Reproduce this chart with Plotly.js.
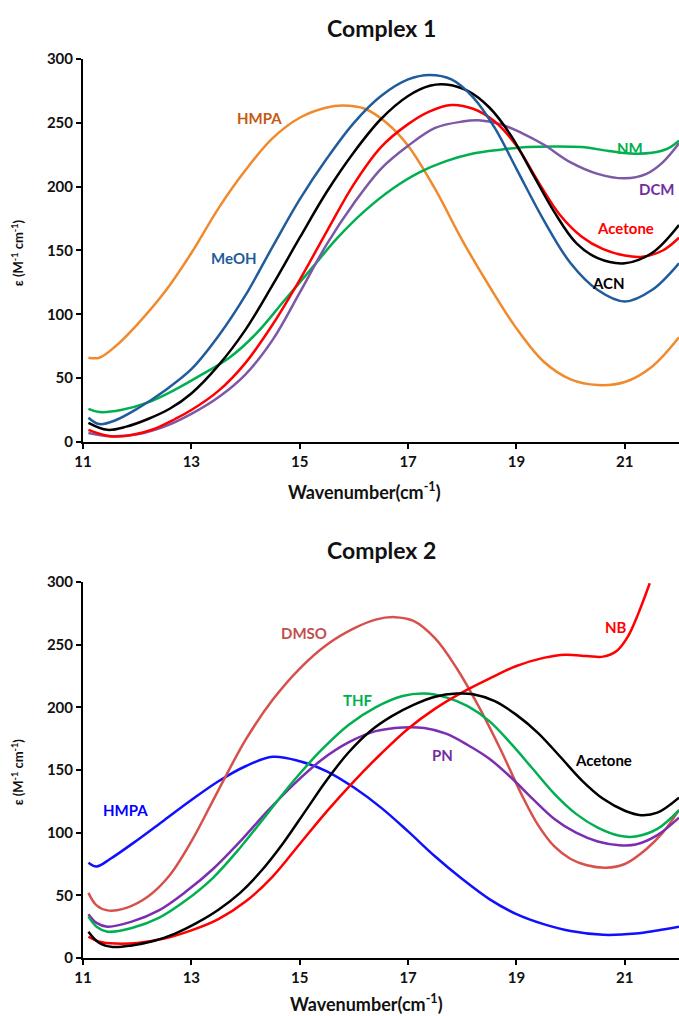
<!DOCTYPE html>
<html>
<head>
<meta charset="utf-8">
<script src="https://cdn.plot.ly/plotly-3.0.1.min.js"></script>
<style>html,body{margin:0;padding:0;background:#fff;}#chart{width:679px;height:1016px;}</style>
</head>
<body>
<div id="chart"></div>
<script>
// ---------- Complex 1 ----------
const c1_HMPA_x = [11.1, 11.3, 11.6, 12.0, 12.5, 13.0, 13.5, 14.0, 14.5, 15.0, 15.5, 15.8, 16.2, 16.6, 17.0, 17.5, 18.0, 18.5, 19.0, 19.5, 20.0, 20.5, 21.0, 21.5, 22.0];
const c1_HMPA_y = [66, 66, 75, 92, 117, 148, 183, 213, 238, 254, 262, 263.5, 261, 250, 232, 198, 158, 122, 89, 63, 49, 44.6, 47, 59, 82];
const c1_MeOH_x = [11.1, 11.3, 11.6, 12.0, 12.5, 13.0, 13.5, 14.0, 14.5, 15.0, 15.5, 16.0, 16.5, 17.0, 17.4, 17.8, 18.2, 18.6, 19.0, 19.5, 20.0, 20.5, 21.0, 21.5, 22.0];
const c1_MeOH_y = [19, 14, 17, 26, 40, 57, 83, 115, 153, 190, 222, 250, 271, 284, 287.5, 284, 270, 246, 214, 174, 140, 119, 110, 119, 140];
const c1_ACN_x = [11.1, 11.45, 11.8, 12.2, 12.6, 13.0, 13.5, 14.0, 14.5, 15.0, 15.5, 16.0, 16.5, 17.0, 17.4, 17.7, 18.1, 18.5, 18.9, 19.3, 19.7, 20.1, 20.5, 21.0, 21.5, 22.0];
const c1_ACN_y = [15, 9.5, 12, 18, 26, 38, 60, 88, 123, 160, 196, 227, 253, 271, 279, 280, 275, 262, 240, 210, 180, 156, 144, 140, 148, 170];
const c1_Acetone_x = [11.1, 11.5, 11.9, 12.3, 12.7, 13.0, 13.5, 14.0, 14.5, 15.0, 15.5, 16.0, 16.5, 17.0, 17.4, 17.8, 18.2, 18.6, 19.0, 19.4, 19.8, 20.2, 20.6, 21.0, 21.3, 21.7, 22.0];
const c1_Acetone_y = [9.5, 4.5, 5.5, 10, 18, 25, 40, 62, 92, 127, 165, 202, 231, 249, 259, 264, 261, 251, 232, 204, 178, 161, 151, 146, 145, 150, 160];
const c1_DCM_x = [11.1, 11.5, 12.0, 12.5, 13.0, 13.5, 14.0, 14.5, 15.0, 15.5, 16.0, 16.5, 17.0, 17.5, 18.0, 18.3, 18.7, 19.1, 19.5, 20.0, 20.5, 21.0, 21.4, 21.7, 22.0];
const c1_DCM_y = [7, 4.5, 6, 12, 22, 35, 53, 80, 117, 155, 187, 214, 232, 246, 251, 252, 249, 242, 233, 219, 210, 206.5, 210, 219, 234];
const c1_NM_x = [11.1, 11.3, 11.7, 12.2, 12.7, 13.2, 13.7, 14.2, 14.7, 15.2, 15.7, 16.2, 16.7, 17.2, 17.7, 18.2, 18.7, 19.2, 19.7, 20.2, 20.7, 21.1, 21.5, 21.8, 22.0];
const c1_NM_y = [26, 23.5, 25, 31, 41, 53, 66, 85, 110, 135, 160, 181, 198, 211, 220, 226, 229, 231, 231.5, 231, 228, 226, 226.5, 230, 236];

// ---------- Complex 2 ----------
const c2_HMPA_x = [11.1, 11.25, 11.5, 12.0, 12.5, 13.0, 13.5, 14.0, 14.5, 15.0, 15.5, 16.0, 16.5, 17.0, 17.5, 18.0, 18.5, 19.0, 19.5, 20.0, 20.6, 21.2, 21.6, 22.0];
const c2_HMPA_y = [76, 73, 79, 94, 110, 126, 141, 153, 160.5, 157, 149, 136, 120, 101, 81, 63, 47, 35, 27, 21.5, 18.5, 19.5, 22, 25];
const c2_DMSO_x = [11.1, 11.25, 11.45, 11.8, 12.2, 12.6, 13.0, 13.5, 14.0, 14.5, 15.0, 15.5, 16.0, 16.4, 16.75, 17.1, 17.5, 17.9, 18.3, 18.7, 19.1, 19.4, 19.7, 20.0, 20.3, 20.65, 21.0, 21.4, 21.7, 22.0];
const c2_DMSO_y = [52, 42, 38, 40, 49, 66, 93, 134, 174, 206, 231, 250, 263, 270, 272, 269, 255, 231, 201, 167, 130, 106, 89, 79, 74, 72, 75, 87, 100, 118];
const c2_THF_x = [11.1, 11.25, 11.45, 11.9, 12.4, 12.9, 13.4, 13.9, 14.4, 14.9, 15.4, 15.9, 16.4, 16.9, 17.3, 17.7, 18.1, 18.5, 18.9, 19.3, 19.7, 20.1, 20.5, 20.9, 21.2, 21.6, 22.0];
const c2_THF_y = [33, 25, 21, 24, 32, 46, 64, 88, 115, 142, 166, 186, 200, 209, 211, 208, 201, 189, 171, 151, 131, 115, 104, 97.5, 97, 103, 118];
const c2_PN_x = [11.1, 11.25, 11.45, 11.9, 12.4, 12.9, 13.4, 13.9, 14.4, 14.9, 15.4, 15.9, 16.4, 16.9, 17.3, 17.7, 18.1, 18.5, 18.9, 19.3, 19.7, 20.1, 20.5, 20.9, 21.2, 21.6, 22.0];
const c2_PN_y = [35, 28, 25, 29, 38, 53, 71, 93, 117, 139, 158, 172, 181, 184, 183.5, 179, 170, 159, 144, 127, 111, 100, 93, 90, 90.5, 98, 112];
const c2_Acetone_x = [11.1, 11.3, 11.55, 11.9, 12.3, 12.7, 13.1, 13.5, 13.9, 14.3, 14.7, 15.1, 15.5, 15.9, 16.3, 16.7, 17.1, 17.5, 17.9, 18.2, 18.6, 19.0, 19.4, 19.8, 20.2, 20.6, 21.0, 21.3, 21.6, 22.0];
const c2_Acetone_y = [21, 12, 8.8, 10, 13.5, 19.5, 28, 38.5, 52, 70, 92, 117, 142, 164, 181, 193, 202, 208.5, 211, 210.5, 205, 194, 179.5, 161, 142, 127, 117.5, 114, 116, 128];
const c2_NB_x = [11.1, 11.3, 11.6, 12.0, 12.5, 13.0, 13.5, 14.0, 14.5, 15.0, 15.5, 16.0, 16.5, 17.0, 17.5, 18.0, 18.5, 19.0, 19.5, 19.9, 20.3, 20.6, 20.85, 21.05, 21.25, 21.46];
const c2_NB_y = [17, 13, 11.5, 12, 15.5, 22, 31, 45, 65, 91, 117, 141, 163, 183, 199, 212, 223, 233, 239.5, 242, 241, 240.5, 245, 256, 275, 299];

const xTicks = [11, 13, 15, 17, 19, 21];
const yTicks = [0, 50, 100, 150, 200, 250, 300];

const FONT = 'Lato, "Open Sans", sans-serif';
const LW = 2.5;

function tr(x, y, color, xa, ya) {
  return {x: x, y: y, type: 'scatter', mode: 'lines', xaxis: xa, yaxis: ya,
          line: {color: color, width: LW, shape: 'spline', smoothing: 1.0},
          hoverinfo: 'skip', showlegend: false};
}

const data = [
  tr(c1_HMPA_x, c1_HMPA_y, '#F08A2C', 'x', 'y'),
  tr(c1_NM_x, c1_NM_y, '#00B050', 'x', 'y'),
  tr(c1_DCM_x, c1_DCM_y, '#7D58A6', 'x', 'y'),
  tr(c1_Acetone_x, c1_Acetone_y, '#FF0000', 'x', 'y'),
  tr(c1_ACN_x, c1_ACN_y, '#000000', 'x', 'y'),
  tr(c1_MeOH_x, c1_MeOH_y, '#1F5C9C', 'x', 'y'),

  tr(c2_HMPA_x, c2_HMPA_y, '#1010FF', 'x2', 'y2'),
  tr(c2_DMSO_x, c2_DMSO_y, '#D6514C', 'x2', 'y2'),
  tr(c2_PN_x, c2_PN_y, '#7B2FB0', 'x2', 'y2'),
  tr(c2_THF_x, c2_THF_y, '#00B050', 'x2', 'y2'),
  tr(c2_NB_x, c2_NB_y, '#FF0000', 'x2', 'y2'),
  tr(c2_Acetone_x, c2_Acetone_y, '#000000', 'x2', 'y2')
];

function xax(anchor) {
  return {range: [11, 22], anchor: anchor, tickvals: xTicks, ticks: 'outside', ticklen: 5, tickwidth: 2,
          tickcolor: '#000', showline: true, linecolor: '#000', linewidth: 2, showgrid: false, zeroline: false,
          tickfont: {family: FONT, size: 15, color: '#111', weight: 'bold'}, fixedrange: true};
}
function yax(anchor, domain) {
  return {range: [0, 300], anchor: anchor, domain: domain, tickvals: yTicks, ticks: 'outside', ticklen: 5, tickwidth: 2,
          tickcolor: '#000', showline: true, linecolor: '#000', linewidth: 2, showgrid: false, zeroline: false,
          tickfont: {family: FONT, size: 15, color: '#111', weight: 'bold'}, fixedrange: true};
}

function lab(text, x, y, color, xr, yr) {
  return {text: text, x: x, y: y, xref: xr, yref: yr, showarrow: false,
          font: {family: FONT, size: 15, color: color, weight: 'bold'}, xanchor: 'center', yanchor: 'middle'};
}
function ptxt(text, x, y, size, angle) {
  return {text: text, x: x, y: y, xref: 'paper', yref: 'paper', showarrow: false, textangle: angle || 0,
          font: {family: FONT, size: size, color: '#111', weight: 'bold'}, xanchor: 'center', yanchor: 'middle'};
}

const ytitle = 'ε (M<sup>-1</sup> cm<sup>-1</sup>)';
const xtitle = 'Wavenumber(cm<sup>-1</sup>)';

const layout = {
  width: 679, height: 1016,
  margin: {l: 83, r: 0, t: 59, b: 58},
  paper_bgcolor: '#fff', plot_bgcolor: '#fff',
  xaxis: xax('y'),
  yaxis: yax('x', [0.574, 1]),
  xaxis2: xax('y2'),
  yaxis2: yax('x2', [0, 0.4182]),
  annotations: [
    ptxt('Complex 1', 0.5, 1.0345, 23),
    ptxt('Complex 2', 0.5, 0.4538, 23),
    ptxt(xtitle, 0.473, 0.519, 18),
    ptxt(xtitle, 0.476, -0.05, 18),
    ptxt(ytitle, -0.11, 0.7845, 13, -90),
    ptxt(ytitle, -0.11, 0.207, 13, -90),

    lab('HMPA', 14.26, 253.7, '#C55A11', 'x', 'y'),
    lab('MeOH', 13.78, 144, '#1F5C99', 'x', 'y'),
    lab('NM', 21.09, 230, '#00B050', 'x', 'y'),
    lab('DCM', 21.59, 198, '#7030A0', 'x', 'y'),
    lab('Acetone', 21.02, 168, '#FF0000', 'x', 'y'),
    lab('ACN', 20.69, 124.5, '#000000', 'x', 'y'),

    lab('DMSO', 15.07, 259, '#C0504D', 'x2', 'y2'),
    lab('NB', 20.83, 264, '#FF0000', 'x2', 'y2'),
    lab('THF', 16.08, 206, '#00B050', 'x2', 'y2'),
    lab('PN', 17.63, 162, '#7030A0', 'x2', 'y2'),
    lab('Acetone', 20.6, 158, '#000000', 'x2', 'y2'),
    lab('HMPA', 11.79, 118, '#0000FF', 'x2', 'y2')
  ]
};

Plotly.newPlot('chart', data, layout, {displayModeBar: false, staticPlot: true});
</script>
</body>
</html>
